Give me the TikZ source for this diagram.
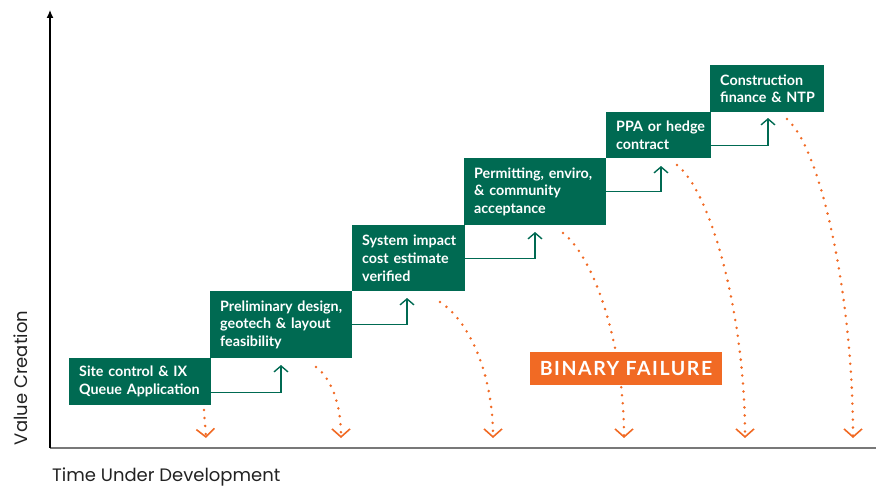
\documentclass[tikz,border=0pt]{standalone}
\usepackage{fontspec}
\setmainfont{Lato}
\newfontfamily\axisfont{Poppins}
\newfontfamily\failfont{Lato}[LetterSpace=8]
\usetikzlibrary{arrows.meta}
\definecolor{dgreen}{RGB}{0,106,82}
\definecolor{forange}{RGB}{241,106,36}
\definecolor{axgray}{RGB}{120,120,120}
\definecolor{labelc}{RGB}{34,34,34}
\newcommand{\oneline}[1]{\mbox{#1}}
\begin{document}
\begin{tikzpicture}[x=1pt,y=-1pt,
  stepbox/.style={fill=dgreen, text=white, font=\bfseries\fontsize{14.3}{17.8}\selectfont,
    anchor=north west, inner xsep=10pt, inner ysep=0pt, align=left},
  conn/.style={draw=dgreen, line width=1.4pt,
    -{Straight Barb[length=6pt,width=14pt,line width=1.4pt]}},
  fail/.style={draw=forange, line width=2.8pt, line cap=round, dash pattern=on 0pt off 8pt,
    -{Straight Barb[length=8pt,width=18pt,line width=1.6pt]}},
  axlabel/.style={text=labelc, font=\axisfont\fontsize{18}{18}\selectfont, inner sep=0pt}
]
\useasboundingbox (0,0) rectangle (876,487);

% axes
\coordinate (o) at (50,447.5);
\coordinate (ytop) at (50,10);
\coordinate (xend) at (876,447.5);
\draw[axgray, line width=2pt] (o) -- (xend);
\draw[black, line width=1.2pt, -{Latex[length=8pt,width=7pt]}] (o) -- (ytop);
\node[axlabel, anchor=west] (xl) at (52,477) {Time Under Development};
\node[axlabel, rotate=90] (yl) at (21,378) {Value Creation};

% failure curves
\coordinate (s1) at (204,410); \coordinate (e1) at (206,438);
\coordinate (s2) at (316,367); \coordinate (e2) at (341,438);
\coordinate (s3) at (440,302); \coordinate (e3) at (493,438);
\coordinate (s4) at (563,233); \coordinate (e4) at (624,438);
\coordinate (s5) at (677,165); \coordinate (e5) at (745,438);
\coordinate (s6) at (787,119); \coordinate (e6) at (853,438);
\draw[fail] (s1) -- (e1);
\draw[fail] (s2) .. controls (330,377) and (341,402) .. (e2);
\draw[fail] (s3) .. controls (468,320) and (493,372) .. (e3);
\draw[fail] (s4) .. controls (595,258) and (624,347) .. (e4);
\draw[fail] (s5) .. controls (712,193) and (745,317) .. (e5);
\draw[fail] (s6) .. controls (822,150) and (853,300) .. (e6);

% steps
\node[stepbox, text width=122pt, minimum height=47pt] (b1) at (69,358) {\oneline{Site control \& IX}\\\oneline{Queue Application}};
\node[stepbox, text width=122pt, minimum height=67pt] (b2) at (210,291) {\oneline{Preliminary design,}\\\oneline{geotech \& layout}\\\oneline{feasibility}};
\node[stepbox, text width=93pt, minimum height=66pt] (b3) at (352,225) {\oneline{System impact}\\\oneline{cost estimate}\\\oneline{verified}};
\node[stepbox, text width=122pt, minimum height=67pt] (b4) at (464,158) {\oneline{Permitting, enviro,}\\\oneline{\& community}\\\oneline{acceptance}};
\node[stepbox, text width=85pt, minimum height=46pt] (b5) at (606,112) {\oneline{PPA or hedge}\\\oneline{contract}};
\node[stepbox, text width=94pt, minimum height=47pt] (b6) at (710,65) {\oneline{Construction}\\\oneline{finance \& NTP}};

% connectors
\coordinate (t1) at (281,365);
\coordinate (t2) at (407,298);
\coordinate (t3) at (535,232);
\coordinate (t4) at (661,166);
\coordinate (t5) at (768,118);
\draw[conn] ([yshift=-10.5pt]b1.east) -| (t1);
\draw[conn] (b2.east) -| (t2);
\draw[conn] (b3.east) -| (t3);
\draw[conn] (b4.east) -| (t4);
\draw[conn] ([yshift=-10pt]b5.east) -| (t5);

% binary failure label
\node[fill=forange, text=white, font=\failfont\bfseries\fontsize{19.5}{19.5}\selectfont,
  minimum width=192pt, minimum height=33pt, inner sep=0pt] (bf) at (626,368.5) {BINARY FAILURE};
\end{tikzpicture}
\end{document}
